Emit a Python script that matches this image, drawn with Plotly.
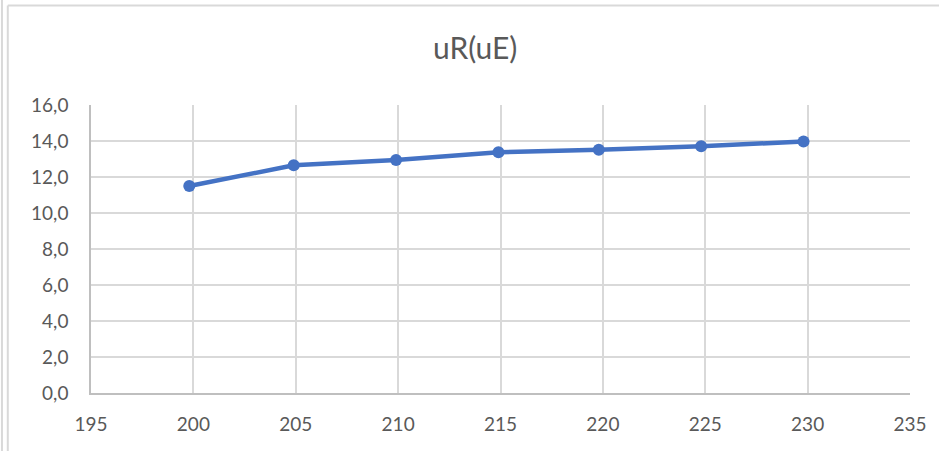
import plotly.graph_objects as go

x_vals = [199.8, 204.9, 209.9, 214.9, 219.8, 224.8, 229.8]
y_vals = [11.5, 12.65, 12.95, 13.37, 13.52, 13.71, 13.97]
title_text = "uR(uE)"

fig = go.Figure()
fig.add_trace(go.Scatter(
    x=x_vals, y=y_vals, mode="lines+markers",
    line=dict(color="#4472C4", width=4.5),
    marker=dict(color="#4472C4", size=12),
    showlegend=False,
))

font_family = "Lato, Open Sans, sans-serif"
fig.update_layout(
    width=939, height=451,
    margin=dict(l=91, r=29, t=105, b=58),
    paper_bgcolor="white", plot_bgcolor="white",
    separators=", ",
    title=dict(text=title_text, x=0.506, xanchor="center", y=0.893, yanchor="middle",
               font=dict(family=font_family, size=30, color="#595959")),
    xaxis=dict(range=[195, 235], dtick=5, tick0=195, showgrid=True, gridcolor="#D9D9D9", gridwidth=1.5,
               showline=True, linecolor="#BFBFBF", linewidth=1.5, zeroline=False, ticks="",
               ticklabelstandoff=13,
               tickfont=dict(family=font_family, size=19, color="#595959")),
    yaxis=dict(range=[0, 16], dtick=2, tickformat=".1f", showgrid=True, gridcolor="#D9D9D9", gridwidth=1.5,
               showline=True, linecolor="#BFBFBF", linewidth=1.5, zeroline=False, ticks="",
               ticklabelstandoff=17,
               tickfont=dict(family=font_family, size=19, color="#595959")),
    shapes=[
        dict(type="line", xref="paper", yref="paper", x0=-0.1016, x1=-0.1016, y0=1.3455, y1=-0.3,
             line=dict(color="#D9D9D9", width=2)),
        dict(type="line", xref="paper", yref="paper", x0=-0.1016, x1=1.1, y0=1.3455, y1=1.3455,
             line=dict(color="#D9D9D9", width=2)),
        dict(type="line", xref="paper", yref="paper", x0=-0.1087, x1=-0.1087, y0=1.4, y1=-0.3,
             line=dict(color="#D9D9D9", width=2)),
    ],
)

fig.write_html("out.html", config={"displayModeBar": False},
               post_script="document.body.style.margin='0';")
